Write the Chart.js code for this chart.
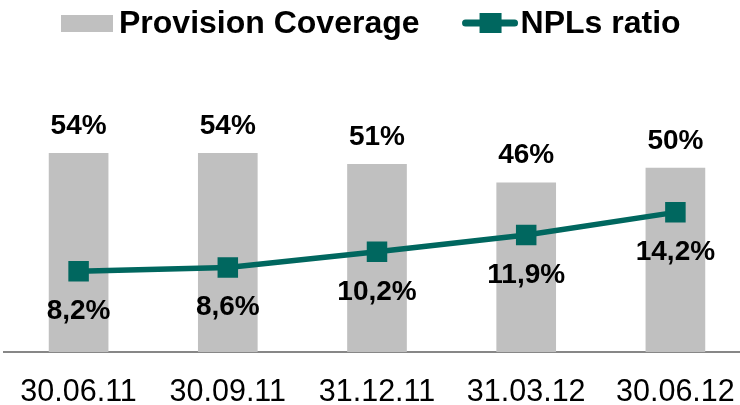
<!DOCTYPE html>
<html>
<head>
<meta charset="utf-8">
<script src="https://cdn.jsdelivr.net/npm/chart.js@4.4.1/dist/chart.umd.min.js"></script>
<style>
  html, body { margin: 0; padding: 0; background: #fff; overflow: hidden; }
  #wrap { width: 750px; height: 405px; }
</style>
</head>
<body>
<div id="wrap"><canvas id="chart"></canvas></div>
<script>
const categories = ['30.06.11', '30.09.11', '31.12.11', '31.03.12', '30.06.12'];
const provisionCoverage = [54, 54, 51, 46, 50];
const nplRatio = [8.2, 8.6, 10.2, 11.9, 14.2];

const GREY = '#c0c0c0';
const TEAL = '#00675f';
const SANS = "'Liberation Sans', Arial, sans-serif";

const valueLabels = {
  id: 'valueLabels',
  afterDatasetsDraw(chart) {
    const ctx = chart.ctx;
    ctx.save();
    ctx.font = 'bold 28px ' + SANS;
    ctx.fillStyle = '#000';
    ctx.textAlign = 'center';
    ctx.textBaseline = 'alphabetic';
    chart.data.datasets.forEach((ds, i) => {
      chart.getDatasetMeta(i).data.forEach((el, j) => {
        const v = ds.data[j];
        if (ds.type === 'bar') {
          ctx.fillText(v + '%', el.x, el.y - 19);
        } else {
          ctx.fillText(v.toFixed(1).replace('.', ',') + '%', el.x, el.y + 48);
        }
      });
    });
    ctx.restore();
  }
};

// legend drawn by hand: bar swatch, then line+marker swatch, both from dataset styles
const topLegend = {
  id: 'topLegend',
  afterDraw(chart) {
    const ctx = chart.ctx;
    const [bars, line] = chart.data.datasets;
    ctx.save();
    ctx.font = 'bold 32px ' + SANS;
    ctx.textBaseline = 'alphabetic';
    ctx.textAlign = 'left';

    ctx.fillStyle = bars.backgroundColor;
    ctx.fillRect(61, 15, 52, 17);
    ctx.fillStyle = '#000';
    ctx.fillText(bars.label, 119, 33);

    const x2 = 119 + ctx.measureText(bars.label).width + 43;
    ctx.strokeStyle = line.borderColor;
    ctx.lineWidth = 7;
    ctx.lineCap = 'round';
    ctx.beginPath();
    ctx.moveTo(x2 + 3, 23);
    ctx.lineTo(x2 + 52, 23);
    ctx.stroke();
    ctx.fillStyle = line.borderColor;
    ctx.fillRect(x2 + 17, 13, 22, 20);
    ctx.fillStyle = '#000';
    ctx.fillText(line.label, x2 + 58, 33);
    ctx.restore();
  }
};

new Chart(document.getElementById('chart'), {
  data: {
    labels: categories,
    datasets: [
      {
        type: 'bar',
        label: 'Provision Coverage',
        data: provisionCoverage,
        backgroundColor: GREY,
        barPercentage: 0.4,
        categoryPercentage: 1,
        yAxisID: 'y',
        order: 2
      },
      {
        type: 'line',
        label: 'NPLs ratio',
        data: nplRatio,
        borderColor: TEAL,
        borderWidth: 5.5,
        pointStyle: 'rect',
        pointRadius: 14.5,
        pointBackgroundColor: TEAL,
        pointBorderWidth: 0,
        yAxisID: 'y2',
        order: 1
      }
    ]
  },
  options: {
    responsive: true,
    maintainAspectRatio: false,
    animation: false,
    layout: {
      autoPadding: false,
      padding: { left: 4, top: 57, right: 0, bottom: 0 }
    },
    plugins: {
      tooltip: { enabled: false },
      legend: { display: false }
    },
    scales: {
      x: {
        grid: { display: false, drawTicks: false },
        border: { color: '#878787', width: 2 },
        ticks: {
          color: '#000',
          padding: 25,
          autoSkip: false,
          maxRotation: 0,
          font: { family: SANS, size: 30.5, lineHeight: 1 }
        },
        afterFit(scale) {
          scale.height = 53;
          scale.paddingLeft = 0;
          scale.paddingRight = 0;
        }
      },
      y: { display: false, min: 0, max: 80 },
      y2: { display: false, min: 0, max: 30 }
    }
  },
  plugins: [valueLabels, topLegend]
});
</script>
</body>
</html>
